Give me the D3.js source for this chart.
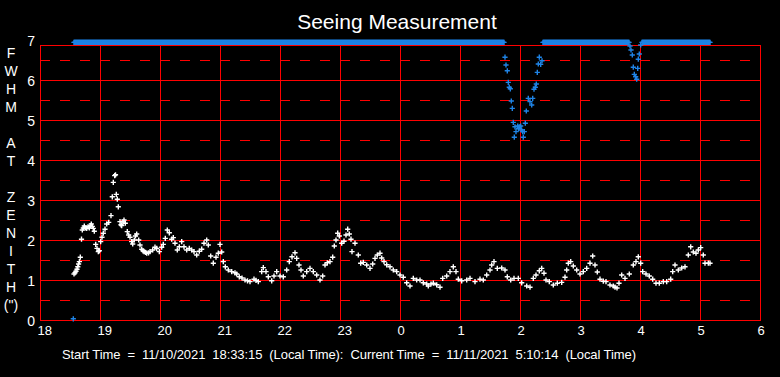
<!DOCTYPE html>
<html>
<head>
<meta charset="utf-8">
<script src="https://cdn.jsdelivr.net/npm/d3@7/dist/d3.min.js"></script>
<style>
  html, body { margin: 0; padding: 0; background: #000; }
  svg { display: block; }
  text { font-family: "Liberation Sans", Arial, sans-serif; fill: #fff; }
</style>
</head>
<body>
<svg id="chart" width="780" height="377"></svg>
<script>
// ---- data (time = minutes after 18:00 local) ----
const hourLabels = ["18","19","20","21","22","23","0","1","2","3","4","5","6"];
const yTicks = [0,1,2,3,4,5,6,7];
const yTitle = ["F","W","H","M","","A","T","","Z","E","N","I","T","H","(\")"];
const titleText = "Seeing Measurement";
const footerText = "Start Time  =  11/10/2021  18:33:15  (Local Time):  Current Time  =  11/11/2021  5:10:14  (Local Time)";

// seeing FWHM (white)
const seeing = [
 [34,1.15],[35,1.18],[36,1.22],[37,1.27],[37.8,1.33],[38.6,1.40],[39.4,1.46],[40.3,1.57],[41.5,2.02],
 [42.3,2.25],[43.3,2.3],[44.3,2.35],[45.5,2.3],[46.7,2.29],[48,2.33],[49.3,2.3],[50.3,2.36],[51.3,2.4],
 [52.3,2.34],[53.3,2.29],[54.3,2.22],[55.7,1.89],[57,1.79],[58.3,1.71],[59.3,1.73],[60.7,1.96],[62,2.07],
 [63.3,2.17],[65,2.27],[66.7,2.4],[68.7,2.44],[71,2.61],[72.3,3.08],[73.3,3.44],[74.7,3.61],[75.5,3.63],
 [76.3,3.14],[77.3,3.02],[78.3,2.83],[80,2.46],[81,2.38],[81.7,2.36],[83,2.45],[84,2.5],[85.3,2.42],
 [87.3,2.21],[88.7,2.125],[90,2.07],[91.7,1.96],[92.7,1.9],[94.3,2.0],[95.5,2.1],[96.7,2.15],[98.7,2.0],
 [100,1.875],[101.7,1.77],[103,1.73],[104,1.71],[105.5,1.69],[106.7,1.67],[108.5,1.68],[110,1.71],
 [112.7,1.75],[115,1.82],[116.7,1.79],[119.3,1.71],[121.7,1.82],[123.3,1.89],[125.3,2.04],[127.3,2.25],
 [129.3,2.18],[131.7,2.02],[133.3,2.06],[135,1.92],[137.3,1.75],[139.3,1.83],[141.7,1.96],[144,1.83],
 [146.7,1.75],[149.3,1.79],[151.7,1.75],[154,1.71],[156.7,1.625],[159.3,1.72],[161.7,1.77],[164,1.92],
 [166.7,2.0],[168.3,1.875],[170.7,1.6],[173.3,1.42],[176,1.57],[178.3,1.67],[180,1.89],[181.7,1.7],
 [183.3,1.46],[185.3,1.33],[188.3,1.25],[191.7,1.21],[195,1.18],[196.7,1.15],[199.3,1.08],[202,1.05],
 [205,1.0],[207.5,0.98],[210,0.96],[214,1.02],[216,0.99],[218.3,0.96],[221.7,1.21],[223.3,1.31],
 [226,1.21],[228.3,1.08],[231.7,0.98],[234,1.1],[236.7,1.21],[240,1.1],[243.3,1.08],[246.7,1.25],
 [249.3,1.46],[252,1.58],[255,1.68],[256.7,1.54],[259,1.375],[261,1.25],[263.3,1.1],[266.7,1.21],
 [270,1.29],[273.3,1.21],[276.7,1.125],[280,1.0],[282.7,1.1],[285,1.375],[287.3,1.43],[290,1.46],
 [292.7,1.57],[294.3,1.85],[296,2.0],[297.7,2.17],[299.3,2.1],[301.7,1.92],[304,1.97],[306,2.125],
 [307.7,2.27],[309.3,2.15],[311,2.02],[312,1.71],[315,1.92],[318.3,1.625],[320.7,1.42],[323.3,1.44],
 [326.7,1.375],[330,1.29],[332.7,1.4],[335,1.54],[337.3,1.625],[340,1.67],[341.7,1.55],[344,1.46],
 [346.7,1.38],[350,1.33],[353.3,1.25],[356.7,1.21],[360,1.125],[363.3,1.07],[366.7,0.93],[370,0.85],
 [373.3,1.04],[376.7,1.0],[380,1.0],[383.3,0.93],[386.7,0.9],[388.3,0.85],[391,0.9],[393.3,0.92],
 [396.7,0.88],[400,0.82],[402.7,1.04],[406.7,1.1],[410,1.21],[413.3,1.33],[416,1.21],[418.3,1.02],
 [421.7,0.98],[426.7,1.0],[430,1.04],[435,0.96],[440,1.02],[443.3,1.0],[446.7,1.125],[450,1.25],
 [451.7,1.375],[454,1.46],[457.3,1.29],[461.7,1.3],[465,1.25],[467.3,1.08],[470.7,1.0],[474,1.04],
 [478.3,1.04],[481.7,0.93],[486.7,0.85],[490,0.82],[493.3,1.04],[496,1.125],[499.3,1.23],[501.7,1.29],
 [504,1.17],[506,1.0],[509.3,0.96],[513.3,0.875],[517.3,0.92],[521.7,0.94],[525,1.07],[526.7,1.25],
 [528.3,1.42],[530.7,1.46],[533.3,1.35],[536.7,1.25],[540,1.15],[543.3,1.21],[546.7,1.29],[550,1.42],
 [552.7,1.6],[555,1.375],[557.3,1.2],[560,1.02],[563.3,0.97],[566,0.96],[570,0.875],[573.3,0.85],
 [575,0.82],[577,0.8],[579,0.92],[581.7,1.125],[585,1.04],[589.3,1.15],[593.3,1.375],[596,1.46],
 [598.3,1.58],[600.7,1.42],[602.7,1.21],[606,1.15],[609.3,1.1],[612.7,1.02],[616,0.92],[619.3,0.92],
 [623.3,0.96],[626.7,0.96],[630.7,1.02],[632.7,1.21],[635,1.375],[638.3,1.25],[641.7,1.3],[645,1.33],
 [648.3,1.625],[650.7,1.83],[653.3,1.7],[656,1.67],[658.3,1.75],[660.7,1.81],[663.3,1.625],[665,1.42],
 [668.3,1.42],[670,1.42]
];

// second (blue) series: constant runs at the top [start, end, value], plus individual readings
const blueRuns = [[34,464,6.94],[503,589,6.94],[602,670,6.94]];
const bluePoints = [
 [33.3,0.03],
 [465,6.57],[466,6.375],[467.3,6.23],[468.3,5.94],[469.3,5.82],[470.3,5.78],[471.3,5.475],[472.3,5.29],
 [473.3,4.94],[474.3,4.57],[475,4.83],[476,4.71],[477.7,4.85],[478.5,4.78],[479.3,4.83],[480.7,4.85],
 [481.7,4.75],[482.7,4.71],[483.3,4.57],[484.3,4.71],[485.3,4.92],[486.3,5.225],[488.3,5.54],[490,5.46],
 [491.7,5.375],[492.7,5.54],[494,5.77],[495.3,5.82],[496.3,5.9],[497.3,6.19],[498.3,6.4],[499.3,6.57],
 [500.7,6.39],[502,6.48],
 [590,6.85],[591,6.75],[592.3,6.625],[593.3,6.32],[594.3,6.14],[595.7,6.08],[596.7,6.02],[597.7,6.29],
 [598.3,6.52],[599.3,6.65],[600.7,6.875]
];

// ---- drawing ----
const svg = d3.select("#chart");
const W = 780, H = 377;
svg.append("rect").attr("width", W).attr("height", H).attr("fill", "#000");

const x = d3.scaleLinear().domain([0, 720]).range([40, 760]);
const y = d3.scaleLinear().domain([0, 7]).range([320, 40]);
const plotTop = 45;
const RED = "#ff0000";

const grid = svg.append("g").attr("shape-rendering", "crispEdges");
// dashed half-unit lines
grid.selectAll("line.dash").data(d3.range(0.5, 7, 1)).join("line")
  .attr("x1", x(0)).attr("x2", x(720))
  .attr("y1", d => Math.round(y(d)) + 0.5).attr("y2", d => Math.round(y(d)) + 0.5)
  .attr("stroke", RED).attr("stroke-width", 1).attr("stroke-dasharray", "10,10");
// solid horizontal lines
grid.selectAll("line.h").data(d3.range(1, 7)).join("line")
  .attr("x1", x(0)).attr("x2", x(720))
  .attr("y1", d => Math.round(y(d)) + 0.5).attr("y2", d => Math.round(y(d)) + 0.5)
  .attr("stroke", RED).attr("stroke-width", 1);
// vertical hour lines
grid.selectAll("line.v").data(d3.range(60, 720, 60)).join("line")
  .attr("x1", d => Math.round(x(d)) + 0.5).attr("x2", d => Math.round(x(d)) + 0.5)
  .attr("y1", plotTop).attr("y2", y(0))
  .attr("stroke", RED).attr("stroke-width", 1);
// frame
grid.append("rect")
  .attr("x", x(0) + 0.5).attr("y", plotTop + 0.5)
  .attr("width", x(720) - x(0)).attr("height", y(0) - plotTop)
  .attr("fill", "none").attr("stroke", RED).attr("stroke-width", 1);

// axes (labels only)
const xAxis = d3.axisBottom(x).tickValues(d3.range(0, 721, 60))
  .tickFormat((d, i) => hourLabels[i]).tickSize(0).tickPadding(0);
const gx = svg.append("g").attr("transform", `translate(0,${y(0)})`).call(xAxis);
gx.select(".domain").remove();
gx.selectAll("text").attr("fill", "#fff").style("font-size", "13px")
  .attr("text-anchor", "start").attr("dx", -3).attr("y", 14.5).attr("dy", 0);

const yAxis = d3.axisLeft(y).tickValues(yTicks).tickFormat(d3.format("d")).tickSize(0).tickPadding(5);
const gy = svg.append("g").attr("transform", `translate(${x(0)},0)`).call(yAxis);
gy.select(".domain").remove();
gy.selectAll("text").attr("fill", "#fff").style("font-size", "14px").attr("dy", "0.36em");

// vertical y title
svg.append("g").selectAll("text").data(yTitle).join("text")
  .attr("x", 11).attr("y", (d, i) => 53 + 18 * i).attr("dy", "0.36em")
  .attr("text-anchor", "middle").style("font-size", "14px").text(d => d);

// title
svg.append("text").attr("x", 397).attr("y", 29).attr("text-anchor", "middle")
  .style("font-size", "21px").text(titleText);

// footer
svg.append("text").attr("x", 62).attr("y", 359).style("font-size", "13px")
  .attr("xml:space", "preserve").style("white-space", "pre")
  .attr("textLength", 574).attr("lengthAdjust", "spacing").text(footerText);

// markers
const plus = (s) => (d) => {
  const px = x(d[0]), py = y(d[1]);
  return `M${px - s},${py}H${px + s}M${px},${py - s}V${py + s}`;
};
const blueAll = bluePoints.concat(
  blueRuns.flatMap(r => d3.range(r[0], r[1] + 0.001, 0.5).map(t => [t, r[2]]))
);
const BLUE = "#1f84e6";
svg.append("g").selectAll("path").data(blueAll).join("path")
  .attr("d", plus(2.6)).attr("stroke", BLUE).attr("stroke-width", 1.4).attr("fill", "none");
svg.append("g").selectAll("path").data(seeing).join("path")
  .attr("d", plus(2.6)).attr("stroke", "#fff").attr("stroke-width", 1.4).attr("fill", "none");
</script>
</body>
</html>
